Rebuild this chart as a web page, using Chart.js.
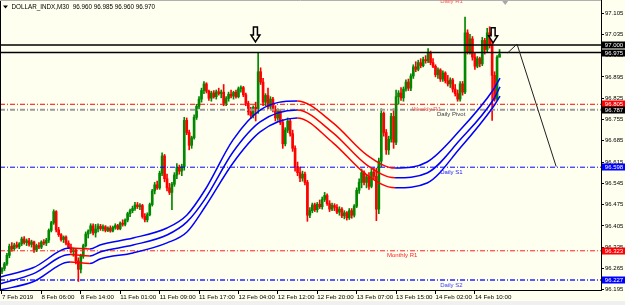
<!DOCTYPE html>
<html><head><meta charset="utf-8">
<script src="https://cdn.jsdelivr.net/npm/chart.js@4/dist/chart.umd.min.js"></script>
<style>html,body{margin:0;padding:0;background:#fffff0;overflow:hidden}canvas{display:block}</style>
</head><body>
<canvas id="c" width="625" height="305"></canvas>
<script>
// ---------------- DATA ----------------
const symbolTitle = 'DOLLAR_INDX,M30  96.960 96.985 96.960 96.970';
const timeLabels = ['7 Feb 2019','8 Feb 06:00','8 Feb 14:00','11 Feb 01:00','11 Feb 09:00','11 Feb 17:00','12 Feb 04:00','12 Feb 12:00','12 Feb 20:00','13 Feb 07:00','13 Feb 15:00','14 Feb 02:00','14 Feb 10:00'];
const timeLabelBars = [0,16,32,48,64,80,96,112,128,144,160,176,192];
const priceTicks = [96.195,96.265,96.335,96.405,96.475,96.545,96.615,96.685,96.755,96.825,96.895,96.965,97.035,97.105];

const opens = [96.255,96.265,96.280,96.308,96.338,96.330,96.342,96.336,96.346,96.362,96.350,96.356,96.344,96.352,96.326,96.340,96.335,96.352,96.348,96.358,
96.390,96.415,96.452,96.392,96.376,96.360,96.368,96.348,96.335,96.320,96.326,96.290,96.262,96.305,96.340,96.378,96.388,96.405,96.382,96.395,
96.404,96.396,96.402,96.390,96.398,96.388,96.400,96.406,96.396,96.414,96.410,96.424,96.445,96.455,96.462,96.474,96.468,96.472,96.436,96.425,
96.442,96.475,96.520,96.540,96.530,96.578,96.635,96.560,96.530,96.515,96.542,96.572,96.598,96.585,96.600,96.752,96.712,96.670,96.695,96.762,
96.798,96.822,96.850,96.872,96.848,96.825,96.842,96.830,96.846,96.840,96.845,96.808,96.824,96.838,96.832,96.844,96.830,96.856,96.860,96.836,
96.808,96.780,96.768,96.795,96.790,96.912,96.878,96.812,96.834,96.798,96.822,96.788,96.760,96.782,96.745,96.675,96.720,96.750,96.708,96.660,
96.600,96.580,96.562,96.575,96.548,96.440,96.455,96.474,96.458,96.476,96.468,96.492,96.505,96.478,96.460,96.472,96.466,96.450,96.460,96.438,
96.448,96.432,96.455,96.440,96.470,96.522,96.548,96.580,96.548,96.566,96.535,96.582,96.568,96.460,96.618,96.775,96.712,96.655,96.690,96.765,
96.680,96.830,96.842,96.826,96.855,96.878,96.858,96.898,96.928,96.920,96.942,96.932,96.952,96.948,96.975,96.942,96.930,96.902,96.918,96.888,
96.908,96.882,96.872,96.885,96.855,96.840,96.822,96.872,96.845,97.040,96.978,97.020,96.960,96.930,96.955,96.938,97.015,96.985,97.040,97.000,
96.900,96.822,96.960];
const highs = [96.268,96.285,96.315,96.345,96.350,96.348,96.352,96.350,96.368,96.370,96.362,96.364,96.358,96.355,96.345,96.350,96.356,96.360,96.364,96.395,
96.420,96.458,96.455,96.400,96.380,96.372,96.372,96.356,96.345,96.332,96.330,96.300,96.312,96.345,96.385,96.392,96.412,96.412,96.410,96.412,
96.410,96.408,96.406,96.402,96.405,96.404,96.412,96.410,96.418,96.425,96.428,96.450,96.460,96.470,96.482,96.482,96.478,96.476,96.445,96.448,
96.480,96.525,96.548,96.552,96.585,96.645,96.640,96.575,96.545,96.548,96.580,96.610,96.605,96.608,96.762,96.760,96.720,96.700,96.770,96.805,
96.830,96.858,96.880,96.876,96.852,96.848,96.850,96.852,96.858,96.852,96.870,96.830,96.845,96.852,96.848,96.852,96.862,96.866,96.864,96.842,
96.815,96.795,96.800,96.812,96.975,96.925,96.890,96.840,96.858,96.830,96.828,96.800,96.790,96.788,96.755,96.728,96.760,96.756,96.720,96.668,
96.615,96.598,96.585,96.582,96.555,96.465,96.480,96.480,96.482,96.490,96.500,96.515,96.510,96.488,96.480,96.478,96.475,96.468,96.465,96.455,
96.452,96.462,96.462,96.475,96.530,96.560,96.592,96.586,96.575,96.580,96.592,96.595,96.595,96.628,96.790,96.780,96.722,96.700,96.775,96.790,
96.852,96.850,96.860,96.862,96.885,96.888,96.905,96.935,96.945,96.950,96.955,96.960,96.965,96.988,96.980,96.955,96.935,96.925,96.922,96.915,
96.912,96.900,96.892,96.890,96.870,96.852,96.880,96.880,97.092,97.050,97.035,97.028,96.975,96.962,96.960,97.025,97.022,97.055,97.060,97.012,
96.912,96.965,96.985];
const lows = [96.248,96.258,96.275,96.300,96.322,96.325,96.332,96.330,96.340,96.345,96.340,96.338,96.335,96.318,96.320,96.330,96.330,96.342,96.340,96.350,
96.385,96.410,96.385,96.370,96.355,96.350,96.342,96.330,96.315,96.305,96.280,96.222,96.250,96.298,96.335,96.365,96.380,96.375,96.368,96.385,
96.390,96.388,96.385,96.386,96.384,96.385,96.394,96.392,96.392,96.404,96.405,96.418,96.435,96.448,96.456,96.462,96.458,96.430,96.418,96.418,
96.438,96.470,96.510,96.525,96.525,96.570,96.550,96.520,96.508,96.458,96.535,96.560,96.575,96.570,96.588,96.705,96.655,96.660,96.690,96.755,
96.790,96.812,96.840,96.842,96.818,96.815,96.825,96.822,96.835,96.826,96.800,96.800,96.815,96.826,96.822,96.825,96.826,96.845,96.830,96.800,
96.770,96.758,96.760,96.750,96.775,96.870,96.800,96.800,96.790,96.790,96.780,96.750,96.752,96.738,96.660,96.668,96.712,96.700,96.650,96.585,
96.570,96.550,96.552,96.540,96.420,96.432,96.448,96.452,96.450,96.462,96.460,96.485,96.472,96.452,96.455,96.455,96.445,96.440,96.432,96.428,
96.424,96.426,96.430,96.434,96.465,96.512,96.530,96.540,96.530,96.525,96.530,96.560,96.422,96.445,96.600,96.700,96.640,96.640,96.680,96.660,
96.672,96.805,96.818,96.815,96.848,96.850,96.850,96.890,96.912,96.915,96.925,96.928,96.940,96.942,96.935,96.925,96.895,96.890,96.880,96.880,
96.875,96.865,96.860,96.845,96.832,96.815,96.815,96.835,96.840,96.970,96.970,96.950,96.920,96.925,96.928,96.932,96.970,96.978,96.990,96.752,
96.815,96.818,96.960];
const closes = [96.265,96.280,96.308,96.338,96.330,96.342,96.336,96.346,96.362,96.350,96.356,96.344,96.352,96.326,96.340,96.335,96.352,96.348,96.358,96.390,
96.415,96.452,96.392,96.376,96.360,96.368,96.348,96.335,96.320,96.326,96.290,96.262,96.305,96.340,96.378,96.388,96.405,96.382,96.395,96.404,
96.396,96.402,96.390,96.398,96.388,96.400,96.406,96.396,96.414,96.410,96.424,96.445,96.455,96.462,96.474,96.468,96.472,96.436,96.425,96.442,
96.475,96.520,96.540,96.530,96.578,96.635,96.560,96.530,96.515,96.542,96.572,96.598,96.585,96.600,96.752,96.712,96.670,96.695,96.762,96.798,
96.822,96.850,96.872,96.848,96.825,96.842,96.830,96.846,96.840,96.845,96.808,96.824,96.838,96.832,96.844,96.830,96.856,96.860,96.836,96.808,
96.780,96.768,96.795,96.790,96.912,96.878,96.812,96.834,96.798,96.822,96.788,96.760,96.782,96.745,96.675,96.720,96.750,96.708,96.660,96.600,
96.580,96.562,96.575,96.548,96.440,96.455,96.474,96.458,96.476,96.468,96.492,96.505,96.478,96.460,96.472,96.466,96.450,96.460,96.438,96.448,
96.432,96.455,96.440,96.470,96.522,96.548,96.580,96.548,96.566,96.535,96.582,96.568,96.460,96.618,96.775,96.712,96.655,96.690,96.765,96.680,
96.830,96.842,96.826,96.855,96.878,96.858,96.898,96.928,96.920,96.942,96.932,96.952,96.948,96.975,96.942,96.930,96.902,96.918,96.888,96.908,
96.882,96.872,96.885,96.855,96.840,96.822,96.872,96.845,97.040,96.978,97.020,96.960,96.930,96.955,96.938,97.015,96.985,97.040,97.000,96.900,
96.822,96.960,96.970];

// envelope bands (read at sample bars)
const bandBars  = [-0.8, 12.6, 27.6, 35.7, 39.8, 53.2, 67, 75.1, 82.4, 93.8, 104.8, 119.8, 134.4, 148.2, 159.6, 172.6, 186, 199.4, 202.2];
const bandUpper = [96.237,96.267,96.332,96.329,96.342,96.365,96.398,96.441,96.523,96.688,96.786,96.816,96.744,96.638,96.595,96.615,96.720,96.852,96.891];
const bandMid   = [96.214,96.247,96.311,96.306,96.319,96.342,96.375,96.418,96.493,96.648,96.747,96.786,96.711,96.605,96.563,96.579,96.688,96.819,96.862];
const bandLower = [96.194,96.221,96.286,96.281,96.296,96.316,96.349,96.385,96.467,96.612,96.714,96.760,96.678,96.572,96.530,96.546,96.661,96.796,96.832];

// horizontal levels
const levelNames  = ['', '', 'Daily R1', 'Weekly R1', 'Daily Pivot', 'Daily S1', 'Monthly R1', 'Daily S2'];
const levelValues = [97.000, 96.975, 97.160, 96.805, 96.787, 96.598, 96.323, 96.227];

// hand-drawn projection and arrows
const forecastBars   = [205.3, 209.1, 225.0];
const forecastPrices = [96.974, 97.003, 96.600];
const arrowBars   = [102.9, 199.4];
const arrowPrices = [97.010, 97.007];

// ---------------- STYLE ----------------
const BG = '#fffff0';
const GREEN = '#008800', RED = '#ff0000', BLUE = '#0000ff';
const FONT = 'Liberation Sans, Arial, sans-serif';
const X_MIN = -0.81, X_MAX = 243.2, Y_MIN = 96.194, Y_MAX = 97.148;
const levelStyle = [
  {color:'#000000', width:1.5, dash:[],         box:'#000000', text:null,      at:0},
  {color:'#000000', width:1.5, dash:[],         box:'#000000', text:null,      at:0},
  {color:'#ff0000', width:1,   dash:[5,2,1,2],  box:null,      text:'#ff5a5a', at:177.9},
  {color:'#ff0000', width:1,   dash:[5,2,1,2],  box:'#ff0000', text:'#ff5a5a', at:166.5},
  {color:'#9a9a9a', width:2,   dash:[5,2,1,2],  box:'#000000', text:'#404040', at:176.6},
  {color:'#0000ff', width:1,   dash:[5,2,1,2],  box:'#0000ff', text:'#2020ff', at:177.9},
  {color:'#ff2020', width:1,   dash:[5,2,1,2],  box:'#ff0000', text:'#ff2020', at:156.3},
  {color:'#5a5aff', width:2,   dash:[5,2,1,2],  box:'#0000ff', text:'#4040ff', at:177.9}
];

// ---------------- BUILD ----------------
const wickData = highs.map((h,i)=>({x:i, y:[lows[i], h]}));
const bodyData = opens.map((o,i)=>({x:i, y:[o, closes[i]]}));
const candleColor = opens.map((o,i)=> closes[i] > o ? GREEN : (closes[i] < o ? RED : '#000000'));
const slopeColor = ctx => ctx.p1.parsed.y < ctx.p0.parsed.y ? RED : BLUE;
const band = vals => ({type:'line', data: bandBars.map((b,i)=>({x:b, y:vals[i]})), borderColor:BLUE, borderWidth:1.5,
  pointRadius:0, cubicInterpolationMode:'monotone', segment:{borderColor:slopeColor}, order:0});

const datasets = [
  {type:'bar', data:wickData, backgroundColor:candleColor, barThickness:1, grouped:false, order:4},
  {type:'bar', data:bodyData, backgroundColor:candleColor, barThickness:2, grouped:false, minBarLength:1, order:3},
  band(bandUpper), band(bandMid), band(bandLower),
  {type:'line', data: forecastBars.map((b,i)=>({x:b, y:forecastPrices[i]})), borderColor:'#202020', borderWidth:1, pointRadius:0, tension:0, order:1}
];
levelValues.forEach((v,k)=>{
  const s = levelStyle[k];
  datasets.push({type:'line', data:[{x:X_MIN, y:v},{x:X_MAX, y:v}], borderColor:s.color, borderWidth:s.width, borderDash:s.dash, pointRadius:0, order:2});
});

const bgPlugin = {id:'bg', beforeDraw(chart){const c=chart.ctx; c.save(); c.fillStyle=BG; c.fillRect(0,0,chart.width,chart.height);
  c.fillStyle='#f0f0f0'; c.fillRect(0,301,chart.width,4); c.restore();}};

const overlay = {id:'overlay', afterDraw(chart){
  const c = chart.ctx, xs = chart.scales.x, ys = chart.scales.y, a = chart.chartArea;
  c.save();
  // borders
  c.strokeStyle='#000'; c.lineWidth=1;
  c.beginPath(); c.moveTo(0.5,0); c.lineTo(0.5,a.bottom); c.stroke();
  c.strokeStyle='#b0b0b0'; c.beginPath(); c.moveTo(0,0.5); c.lineTo(a.right,0.5); c.stroke();
  // level labels
  c.font = '6px ' + FONT; c.textBaseline='top'; c.textAlign='left';
  levelValues.forEach((v,k)=>{
    const s = levelStyle[k]; if(!s.text) return;
    c.fillStyle = s.text; c.fillText(levelNames[k], xs.getPixelForValue(s.at), ys.getPixelForValue(v)+2);
  });
  // axis boxes
  c.textAlign='center'; c.textBaseline='middle';
  levelValues.forEach((v,k)=>{
    const s = levelStyle[k]; if(!s.box) return;
    const y = ys.getPixelForValue(v); if (y < a.top || y > a.bottom) return;
    c.fillStyle = s.box; c.fillRect(a.right+1, Math.round(y)-3.5, 24, 7);
    c.fillStyle = '#fff'; c.fillText(v.toFixed(3), a.right+13, Math.round(y));
  });
  // arrows
  c.lineWidth = 1.5; c.strokeStyle = '#000'; c.fillStyle = BG;
  arrowBars.forEach((b,k)=>{
    const x = xs.getPixelForValue(b), y = ys.getPixelForValue(arrowPrices[k]);
    c.beginPath();
    c.moveTo(x, y); c.lineTo(x-4.5, y-7); c.lineTo(x-2, y-7); c.lineTo(x-2, y-15);
    c.lineTo(x+2, y-15); c.lineTo(x+2, y-7); c.lineTo(x+4.5, y-7); c.closePath();
    c.fill(); c.stroke();
  });
  // shift marker
  c.fillStyle='#a8a8a8'; const sx = xs.getPixelForValue(204.3);
  c.beginPath(); c.moveTo(sx-3,1); c.lineTo(sx+3,1); c.lineTo(sx,5); c.closePath(); c.fill();
  // title
  c.fillStyle='#000'; c.beginPath(); c.moveTo(3,5.5); c.lineTo(8,5.5); c.lineTo(5.5,8.5); c.closePath(); c.fill();
  c.font = '6.3px ' + FONT; c.textAlign='left'; c.textBaseline='middle'; c.fillText(symbolTitle, 11.5, 7);
  c.restore();
}};

new Chart(document.getElementById('c'), {
  type:'bar',
  data:{datasets},
  plugins:[bgPlugin, overlay],
  options:{
    responsive:false, animation:false, devicePixelRatio:1,
    layout:{padding:0},
    plugins:{legend:{display:false}, tooltip:{enabled:false}, title:{display:false}},
    scales:{
      x:{type:'linear', min:X_MIN, max:X_MAX, offset:false,
        afterBuildTicks: s=>{ s.ticks = timeLabelBars.map(v=>({value:v})); },
        afterFit: s=>{ s.height = 15; s.paddingLeft = 0; s.paddingRight = 0; },
        grid:{offset:false, drawOnChartArea:false, drawTicks:true, tickLength:4, color:'#000'},
        border:{display:true, color:'#000'},
        ticks:{callback:(v,i)=>timeLabels[i], align:'start', maxRotation:0, minRotation:0, autoSkip:false,
          font:{family:FONT, size:6.2}, color:'#000', padding:0}},
      y:{type:'linear', position:'right', min:Y_MIN, max:Y_MAX, beginAtZero:false,
        afterBuildTicks: s=>{ s.ticks = priceTicks.map(v=>({value:v})); },
        afterFit: s=>{ s.width = 24; s.paddingTop = 0; s.paddingBottom = 0; },
        grid:{drawOnChartArea:false, drawTicks:true, tickLength:3, color:'#000'},
        border:{display:true, color:'#000'},
        ticks:{callback:v=>v.toFixed(3), autoSkip:false, font:{family:FONT, size:6}, color:'#000', padding:1}}
    }
  }
});
</script>
</body></html>
